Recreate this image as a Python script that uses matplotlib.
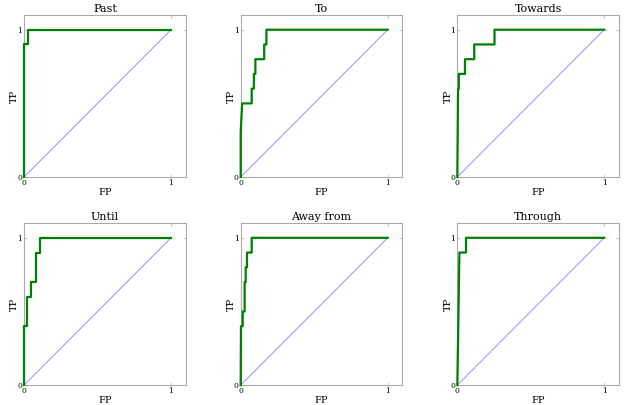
import matplotlib
matplotlib.use("Agg")
import matplotlib.pyplot as plt

plt.rcParams['font.family'] = 'DejaVu Serif'

titles = ['Past', 'To', 'Towards', 'Until', 'Away from', 'Through']

# fpr / tpr
fpr_past = [0, 0, 0.03, 0.03, 1]
tpr_past = [0, 0.9, 0.9, 1, 1]

fpr_to = [0, 0, 0.01, 0.075, 0.075, 0.09, 0.09, 0.10, 0.10, 0.16, 0.16, 0.175, 0.175, 1]
tpr_to = [0, 0.3, 0.5, 0.5, 0.6, 0.6, 0.7, 0.7, 0.8, 0.8, 0.9, 0.9, 1, 1]

fpr_towards = [0, 0.005, 0.01, 0.01, 0.052, 0.052, 0.115, 0.115, 0.253, 0.253, 1]
tpr_towards = [0, 0.6, 0.6, 0.7, 0.7, 0.8, 0.8, 0.9, 0.9, 1, 1]

fpr_until = [0, 0, 0.018, 0.018, 0.048, 0.048, 0.084, 0.084, 0.11, 0.11, 1]
tpr_until = [0, 0.4, 0.4, 0.6, 0.6, 0.7, 0.7, 0.9, 0.9, 1, 1]

fpr_away = [0, 0.002, 0.014, 0.014, 0.027, 0.027, 0.034, 0.034, 0.043, 0.043, 0.075, 0.075, 1]
tpr_away = [0, 0.4, 0.4, 0.5, 0.5, 0.7, 0.7, 0.8, 0.8, 0.9, 0.9, 1, 1]

fpr_through = [0, 0.005, 0.014, 0.059, 0.059, 1]
tpr_through = [0, 0.3, 0.9, 0.9, 1, 1]

courbes = [(fpr_past, tpr_past), (fpr_to, tpr_to), (fpr_towards, tpr_towards),
           (fpr_until, tpr_until), (fpr_away, tpr_away), (fpr_through, tpr_through)]

fig, axes = plt.subplots(2, 3, figsize=(6.24, 4.05), dpi=100)
plt.subplots_adjust(left=0.0385, right=0.992, bottom=0.049, top=0.963,
                    wspace=0.34, hspace=0.284)

for ax, titre, (fpr, tpr) in zip(axes.flat, titles, courbes):
    ax.plot([0, 1], [0, 1], color='#8080ff', lw=0.6)
    ax.plot(fpr, tpr, color='green', lw=1.6, clip_on=False, zorder=3)
    ax.set_xlim(0, 1.1)
    ax.set_ylim(0, 1.1)
    ax.set_xticks([0, 1])
    ax.set_yticks([0, 1])
    ax.tick_params(direction='in', length=2, width=0.5, color='#aaaaaa',
                   labelsize=5.5, pad=1.5, top=True, right=True)
    for s in ax.spines.values():
        s.set_color('#aaaaaa')
        s.set_linewidth(0.8)
    ax.set_title(titre, fontsize=8, pad=2.5)
    ax.set_xlabel('FP', fontsize=7, labelpad=0.5)
    ax.set_ylabel('TP', fontsize=7, labelpad=-1.5)

plt.savefig('out.png', dpi=100)
